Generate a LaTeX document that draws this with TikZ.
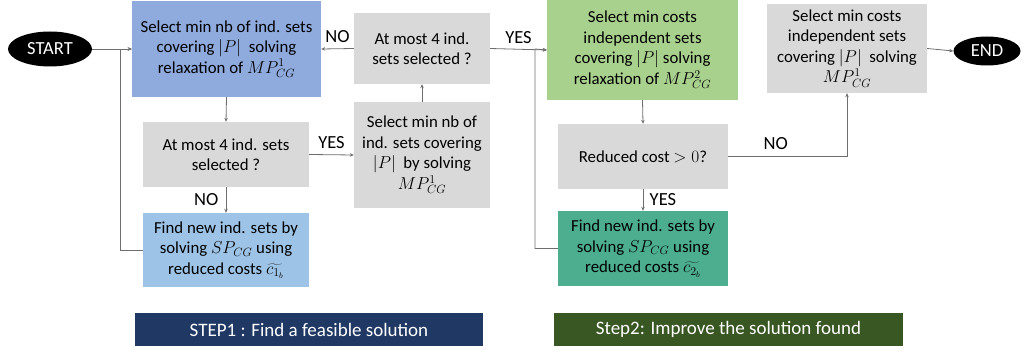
\documentclass[tikz,border=0pt]{standalone}
\usepackage{fontspec}
\setmainfont{Carlito}
\usetikzlibrary{arrows.meta,positioning,shapes.geometric}

\definecolor{boxgray}{RGB}{217,217,217}
\definecolor{stepblue}{RGB}{143,170,220}
\definecolor{lightblue}{RGB}{157,195,230}
\definecolor{stepgreen}{RGB}{169,209,142}
\definecolor{teal}{RGB}{76,174,143}
\definecolor{navy}{RGB}{32,56,100}
\definecolor{darkgreen}{RGB}{56,87,35}
\definecolor{wire}{RGB}{110,110,110}

\tikzstyle{box} = [
  rectangle,
  inner sep=0pt,
  align=center,
  font=\fontsize{16.8}{20.5}\selectfont,
]
\tikzstyle{term} = [
  ellipse,
  fill=black,
  text=white,
  inner sep=0pt,
  font=\fontsize{18.5}{20}\selectfont,
]
\tikzstyle{banner} = [
  rectangle,
  inner sep=0pt,
  text=white,
  font=\fontsize{19}{20}\selectfont,
]
\tikzstyle{arrow} = [
  -{Stealth[length=4pt,width=3.5pt]},
  line width=0.8pt,
  wire,
]
\tikzstyle{lbl} = [
  font=\fontsize{18.5}{20}\selectfont,
  text=black,
]

\begin{document}
\begin{tikzpicture}[x=1pt,y=-1pt]
			\useasboundingbox (0,0) rectangle (1024,352);

			\node[term,minimum width=84,minimum height=35] (start) at (50,49) {START};
			\node[term,minimum width=67,minimum height=29] (end) at (987,51) {END};

			% step 1
			\node[box,fill=stepblue,minimum width=189,minimum height=96] (relax1) at (226.5,49) {Select min nb of ind. sets\\covering $|P|$\ \ solving\\relaxation of $MP^1_{CG}$};
			\node[box,fill=boxgray,minimum width=166,minimum height=65] (check1) at (226,154.5) {At most 4 ind. sets\\selected ?};
			\node[box,fill=lightblue,minimum width=166,minimum height=74] (sub1) at (226,250) {Find new ind. sets by\\solving $SP_{CG}$ using\\reduced costs $\widetilde{c_{1_b}}$};
			\node[box,fill=boxgray,minimum width=136,minimum height=106] (int1) at (422,155) {Select min nb of\\ind. sets covering\\$|P|$\ \ by solving\\$MP^1_{CG}$};
			\node[box,fill=boxgray,minimum width=136,minimum height=71] (check2) at (422,48.5) {At most 4 ind.\\sets selected ?};

			% step 2
			\node[box,fill=stepgreen,minimum width=191,minimum height=100] (relax2) at (642.5,50) {Select min costs\\independent sets\\covering $|P|$ solving\\relaxation of $MP^2_{CG}$};
			\node[box,fill=boxgray,minimum width=170,minimum height=65] (cost) at (643,156.5) {Reduced cost $>0$?};
			\node[box,fill=teal,minimum width=170,minimum height=75] (sub2) at (643,248.5) {Find new ind. sets by\\solving $SP_{CG}$ using\\reduced costs $\widetilde{c_{2_b}}$};
			\node[box,fill=boxgray,minimum width=160,minimum height=89] (int2) at (847,48.5) {Select min costs\\independent sets\\covering $|P|$\ \ solving\\$MP^1_{CG}$};

			\node[banner,fill=navy,minimum width=348,minimum height=33] (step1) at (309,329.5) {STEP1 : Find a feasible solution};
			\node[banner,fill=darkgreen,minimum width=349,minimum height=33] (step2) at (728.5,329.5) {Step2: Improve the solution found};

			\coordinate (j1) at (120,49);
			\coordinate (j2) at (535,49);

			\draw[arrow] (start.east) -- (relax1.west);
			\draw[arrow] (sub1.west) -| (j1) -- (relax1.west);
			\draw[arrow] (relax1.south) -- (check1.north);
			\draw[arrow] (check1.south) -- node[lbl,left=4pt] (no1) {NO} (sub1.north);
			\draw[arrow] (check1.east) -- node[lbl,above=2pt] (yes1) {YES} (int1.west);
			\draw[arrow] (int1.north) -- (check2.south);
			\draw[arrow] (check2.west) -- node[lbl,above=2pt] (no2) {NO} (relax1.east);
			\draw[arrow] (check2.east) -- node[lbl,above=2pt] (yes2) {YES} (relax2.west);
			\draw[arrow] (sub2.west) -| (j2) -- (relax2.west);
			\draw[arrow] (relax2.south) -- (cost.north);
			\draw[arrow] (cost.south) -- node[lbl,right=3pt] (yes3) {YES} (sub2.north);
			\draw[arrow] (cost.east) -| node[lbl,above=3pt,pos=0.2] (no3) {NO} (int2.south);
			\draw[arrow] (int2.east) -- (end.west);
		\end{tikzpicture}
\end{document}
